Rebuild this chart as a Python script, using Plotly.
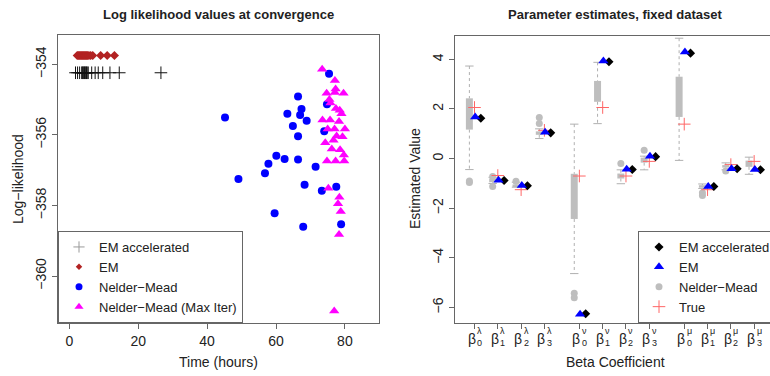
import plotly.graph_objects as go

# ---------------- Left panel data ----------------
em_acc_time = [1.8, 2.4, 3.0, 3.6, 3.8, 4.0, 4.2, 4.4, 4.6, 4.8, 5.0, 5.2, 5.5, 6.5, 7.5, 8.4, 9.7, 11.8, 14.5, 26.6]
em_acc_ll = [-354.24] * 20
em_time = [2.3, 2.6, 2.9, 3.2, 3.5, 3.8, 4.1, 4.4, 4.7, 5.0, 5.3, 5.7, 6.2, 6.8, 9.1, 11.0, 13.1]
em_ll = [-353.75] * 17
nm_time = [45.2, 49.1, 56.8, 57.8, 60.1, 62.5, 63.3, 64.9, 66.4, 66.4, 66.4, 67.0, 67.4, 68.3, 68.9,
           71.5, 73.3, 74.0, 74.8, 75.4, 77.5, 59.6, 67.9, 78.9]
nm_ll = [-355.51, -357.25, -357.09, -356.82, -356.59, -356.68, -355.40, -355.75, -354.91, -356.04,
         -356.70, -355.44, -355.27, -357.41, -355.60, -356.90, -357.58, -355.90, -355.13, -354.27,
         -357.47, -358.22, -358.60, -358.53]
nmx_time = [73.4, 77.1, 77.3, 74.7, 77.1, 79.6, 75.8, 77.4, 78.5, 73.5, 75.7, 78.3, 75.0, 77.0, 80.0,
            77.6, 79.3, 74.3, 76.7, 78.6, 79.7, 74.8, 77.3, 79.8, 75.2, 78.4, 78.8, 78.3, 78.0, 76.9,
            75.5, 76.2, 79.0]
nmx_ll = [-354.14, -354.46, -354.70, -354.82, -354.80, -354.82, -355.10, -355.25, -355.30, -355.58,
          -355.58, -355.62, -355.83, -355.83, -355.83, -356.03, -356.05, -356.22, -356.15, -356.42,
          -356.57, -356.74, -356.74, -356.74, -357.51, -357.77, -358.17, -358.82, -357.95, -360.99,
          -355.00, -356.40, -355.40]

# ---------------- Right panel data ----------------
coef_sub = ["0", "1", "2", "3", "0", "1", "2", "3", "0", "1", "2", "3"]
coef_sup = ["λ", "λ", "λ", "λ", "ν", "ν", "ν", "ν", "μ", "μ", "μ", "μ"]
coef_pos = [1, 2, 3, 4, 5.5, 6.5, 7.5, 8.5, 10, 11, 12, 13]
nm_lo = [-0.44, -1.00, -1.15, 0.81, -4.63, 1.41, -1.01, -0.45, -0.07, -1.20, -0.45, -0.63]
nm_q1 = [1.17, -0.95, -1.12, 0.96, -2.43, 2.29, -0.80, -0.16, 1.68, -1.17, -0.36, -0.33]
nm_q3 = [2.43, -0.80, -1.04, 1.10, -0.61, 3.13, -0.60, 0.04, 3.30, -1.07, -0.26, -0.08]
nm_hi = [3.73, -0.75, -0.95, 1.20, 1.39, 3.88, -0.45, 0.10, 4.85, -1.02, -0.17, 0.06]
nm_out = [[-0.96, -0.90], [-0.72, -1.12], [-0.91], [1.66, 1.42], [-5.42, -5.60], [], [-0.20], [0.34],
          [], [-1.37, -1.48], [-0.50], []]
true_vals = [2.06, -0.68, -1.25, 1.14, -0.70, 2.06, -0.70, -0.11, 1.39, -1.25, -0.24, -0.11]
em_vals = [1.68, -0.87, -1.08, 1.06, -6.27, 3.93, -0.43, 0.10, 4.30, -1.12, -0.41, -0.44]
emacc_vals = [1.63, -0.88, -1.09, 1.04, -6.25, 3.90, -0.44, 0.08, 4.25, -1.12, -0.41, -0.45]

FONT = "Liberation Sans, Arial, sans-serif"
TXT = "#222222"
GRAY = "#bebebe"
FRAME = "#666666"

fig = go.Figure()

# ----- left panel traces -----
fig.add_trace(go.Scatter(x=em_acc_time, y=em_acc_ll, mode="markers", showlegend=False,
                         marker=dict(symbol="cross-thin", size=9, line=dict(color="#111111", width=1)),
                         xaxis="x", yaxis="y"))
fig.add_trace(go.Scatter(x=em_time, y=em_ll, mode="markers", showlegend=False,
                         marker=dict(symbol="diamond", size=7, color="#b22222"), xaxis="x", yaxis="y"))
fig.add_trace(go.Scatter(x=nm_time, y=nm_ll, mode="markers", showlegend=False,
                         marker=dict(symbol="circle", size=8, color="#0000ff"), xaxis="x", yaxis="y"))
fig.add_trace(go.Scatter(x=nmx_time, y=nmx_ll, mode="markers", showlegend=False,
                         marker=dict(symbol="triangle-up", size=9, color="#ff00ff"), xaxis="x", yaxis="y"))

# legend entries (left)
fig.add_trace(go.Scatter(x=[None], y=[None], mode="markers", name="EM accelerated", legend="legend",
                         marker=dict(symbol="cross-thin", size=8, line=dict(color="#999999", width=1)),
                         xaxis="x", yaxis="y"))
fig.add_trace(go.Scatter(x=[None], y=[None], mode="markers", name="EM", legend="legend",
                         marker=dict(symbol="diamond", size=5, color="#b22222"), xaxis="x", yaxis="y"))
fig.add_trace(go.Scatter(x=[None], y=[None], mode="markers", name="Nelder−Mead", legend="legend",
                         marker=dict(symbol="circle", size=7, color="#0000ff"), xaxis="x", yaxis="y"))
fig.add_trace(go.Scatter(x=[None], y=[None], mode="markers", name="Nelder−Mead (Max Iter)", legend="legend",
                         marker=dict(symbol="triangle-up", size=8, color="#ff00ff"), xaxis="x", yaxis="y"))

# ----- right panel traces -----
BOX_OFF = -0.22
box_x = [p + BOX_OFF for p in coef_pos]
fig.add_trace(go.Bar(x=box_x, base=nm_q1, y=[b - a for a, b in zip(nm_q1, nm_q3)], width=0.3,
                     marker=dict(color=GRAY, line=dict(width=0)), showlegend=False,
                     xaxis="x2", yaxis="y2", hoverinfo="skip"))
wx, wy = [], []
for x, lo, q1, q3, hi in zip(box_x, nm_lo, nm_q1, nm_q3, nm_hi):
    wx += [x, x, None, x, x, None]
    wy += [hi, q3, None, q1, lo, None]
fig.add_trace(go.Scatter(x=wx, y=wy, mode="lines", line=dict(color="#b0b0b0", width=1, dash="dot"),
                         showlegend=False, xaxis="x2", yaxis="y2", hoverinfo="skip"))
fig.add_trace(go.Scatter(x=box_x + box_x, y=nm_lo + nm_hi, mode="markers", showlegend=False,
                         marker=dict(symbol="line-ew", size=6, line=dict(color="#b0b0b0", width=1)),
                         xaxis="x2", yaxis="y2", hoverinfo="skip"))
ox, oy = [], []
for x, outs in zip(box_x, nm_out):
    for v in outs:
        ox.append(x)
        oy.append(v)
fig.add_trace(go.Scatter(x=ox, y=oy, mode="markers", showlegend=False,
                         marker=dict(symbol="circle", size=7, color=GRAY), xaxis="x2", yaxis="y2"))
fig.add_trace(go.Scatter(x=coef_pos, y=true_vals, mode="markers", showlegend=False,
                         marker=dict(symbol="cross-thin", size=9, line=dict(color="#ff6666", width=1)),
                         xaxis="x2", yaxis="y2"))
fig.add_trace(go.Scatter(x=[p + 0.27 for p in coef_pos], y=emacc_vals, mode="markers", showlegend=False,
                         marker=dict(symbol="diamond", size=7, color="#000000"), xaxis="x2", yaxis="y2"))
fig.add_trace(go.Scatter(x=[p + 0.03 for p in coef_pos], y=em_vals, mode="markers", showlegend=False,
                         marker=dict(symbol="triangle-up", size=9, color="#0000ff"), xaxis="x2", yaxis="y2"))

# legend entries (right)
fig.add_trace(go.Scatter(x=[None], y=[None], mode="markers", name="EM accelerated", legend="legend2",
                         marker=dict(symbol="diamond", size=7, color="#000000"), xaxis="x2", yaxis="y2"))
fig.add_trace(go.Scatter(x=[None], y=[None], mode="markers", name="EM", legend="legend2",
                         marker=dict(symbol="triangle-up", size=9, color="#0000ff"), xaxis="x2", yaxis="y2"))
fig.add_trace(go.Scatter(x=[None], y=[None], mode="markers", name="Nelder−Mead", legend="legend2",
                         marker=dict(symbol="circle", size=7, color=GRAY), xaxis="x2", yaxis="y2"))
fig.add_trace(go.Scatter(x=[None], y=[None], mode="markers", name="True", legend="legend2",
                         marker=dict(symbol="cross-thin", size=9, line=dict(color="#ff6666", width=1)),
                         xaxis="x2", yaxis="y2"))

W, H = 770, 376
def px_x(p):
    return p / W
def px_y(p):
    return 1 - p / H

axis_common = dict(showgrid=False, zeroline=False, showline=True, linecolor=FRAME, linewidth=1,
                   ticks="outside", ticklen=5, tickcolor=FRAME,
                   tickfont=dict(family=FONT, size=14, color=TXT))

def ann(text, x, y, angle=0, size=14, xref="paper", yref="paper", xshift=0, yshift=0):
    return dict(text=text, x=x, y=y, xref=xref, yref=yref, xanchor="center", yanchor="middle",
                textangle=angle, showarrow=False, xshift=xshift, yshift=yshift,
                font=dict(family=FONT, size=size, color=TXT))

annotations = [
    ann("<b>Log likelihood values at convergence</b>", px_x(218), px_y(14), size=13),
    ann("<b>Parameter estimates, fixed dataset</b>", px_x(615), px_y(14), size=13),
    ann("Time (hours)", px_x(218), px_y(362)),
    ann("Beta Coefficient", px_x(615), px_y(362)),
    ann("Log−likelihood", px_x(18), px_y(179), angle=-90),
    ann("Estimated Value", px_x(415), px_y(179), angle=-90),
]
# coefficient tick labels: beta with stacked subscript / superscript
for p, sb, sp in zip(coef_pos, coef_sub, coef_sup):
    annotations.append(ann("β", p, px_y(339), size=14, xref="x2", xshift=-3))
    annotations.append(ann(sb, p, px_y(343), size=9, xref="x2", xshift=5))
    annotations.append(ann(sp, p, px_y(331), size=9, xref="x2", xshift=5))

fig.update_layout(
    width=W, height=H, margin=dict(l=0, r=0, t=0, b=0, autoexpand=False),
    paper_bgcolor="white", plot_bgcolor="white",
    font=dict(family=FONT, color=TXT),
    barmode="overlay",
    xaxis=dict(domain=[px_x(58), px_x(379)], range=[-3.28, 89.9], tickvals=[0, 20, 40, 60, 80],
               mirror=True, anchor="y", **axis_common),
    yaxis=dict(domain=[px_y(323), px_y(35)], range=[-361.33, -353.17], tickvals=[-354, -356, -358, -360],
               tickangle=-90, mirror=True, anchor="x", **axis_common),
    xaxis2=dict(domain=[px_x(455), 1.0], range=[0.163, 13.68], tickvals=coef_pos, showticklabels=False,
                mirror=True, anchor="y2", **axis_common),
    yaxis2=dict(domain=[px_y(323), px_y(36)], range=[-6.62, 4.94], tickvals=[-6, -4, -2, 0, 2, 4],
                tickangle=-90, anchor="x2", **axis_common),
    legend=dict(x=px_x(58), y=px_y(323), xanchor="left", yanchor="bottom",
                bordercolor=FRAME, borderwidth=1, bgcolor="white",
                font=dict(family=FONT, size=13, color=TXT), itemwidth=30, tracegroupgap=0),
    legend2=dict(x=px_x(638), y=px_y(323), xanchor="left", yanchor="bottom",
                 bordercolor=FRAME, borderwidth=1, bgcolor="white",
                 font=dict(family=FONT, size=13, color=TXT), itemwidth=30, tracegroupgap=0),
    annotations=annotations,
)

fig.write_html("out.html")
